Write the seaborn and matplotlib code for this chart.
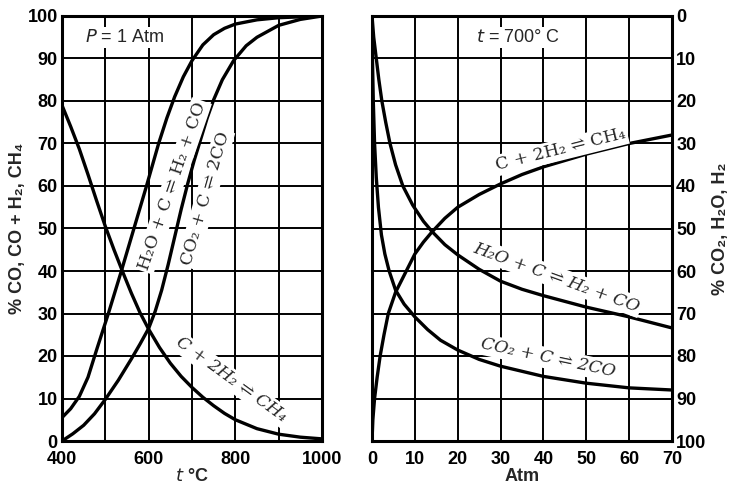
import matplotlib
matplotlib.use("Agg")
import matplotlib.pyplot as plt
import seaborn as sns

# ---- data: left panel (P = 1 Atm), x = t (°C), y = %
t_h2o = [400, 420, 440, 460, 480, 507, 537, 566, 595, 623, 642, 660, 680, 700, 725, 750, 775, 800, 850, 900, 1000]
v_h2o = [5.5, 7.6, 10.5, 15, 21.5, 30, 40, 50, 60, 70, 76, 81, 85.7, 89.5, 93.2, 95.6, 97.1, 98.1, 99.1, 99.6, 100]

t_co2 = [400, 425, 450, 475, 500, 530, 560, 580, 600, 615, 630, 645, 660, 675, 690, 705, 720, 735, 750, 770, 796, 825, 850, 900, 950, 1000]
v_co2 = [0, 1.7, 3.7, 6.4, 9.8, 14.3, 19.3, 22.8, 26.5, 30.5, 35.5, 41.5, 48, 54.5, 60.5, 66, 71, 76, 80.3, 85, 89.5, 93, 95, 97.8, 99.2, 100]

t_ch4 = [400, 420, 440, 460, 480, 500, 520, 540, 560, 580, 600, 625, 650, 675, 700, 725, 750, 775, 800, 850, 900, 950, 1000]
v_ch4 = [79, 74, 68.7, 62.7, 56.5, 50.5, 45, 39.8, 34.8, 30.2, 26.3, 22, 18.3, 15.2, 12.6, 10.3, 8.3, 6.5, 5, 2.9, 1.6, 0.9, 0.5]

# ---- data: right panel (t = 700 °C), x = Atm, y = % CO2, H2O, H2 (0 at top)
p_ch4 = [0, 0.2, 0.6, 1.2, 1.9, 2.8, 3.8, 5.5, 7.5, 10, 12, 14, 17, 20, 25, 30, 35, 40, 50, 60, 70]
r_ch4 = [100, 95, 90, 85, 80, 75, 70, 65, 61, 56, 53.2, 50.8, 47.6, 45, 42, 39.5, 37.3, 35.5, 32.5, 30, 28]

p_h2o = [0, 0.4, 1.0, 1.6, 2.3, 3.2, 4.2, 5.5, 7.2, 9.5, 12, 14, 17, 20, 25, 30, 35, 40, 50, 60, 70]
r_h2o = [0, 5, 10, 15, 20, 25, 30, 35, 40, 44.5, 48.3, 50.7, 53.8, 56.2, 59.6, 62.4, 64.3, 65.8, 68.5, 70.8, 73.4]

p_co2 = [0, 0.1, 0.3, 0.6, 1.0, 1.5, 2.2, 3.0, 4.0, 5.5, 7.5, 10, 13, 16, 20, 25, 30, 40, 50, 60, 70]
r_co2 = [0, 10, 20, 30, 38, 45, 51.5, 56, 60, 64.5, 67.8, 70.8, 73.8, 76.3, 78.6, 80.8, 82.4, 84.8, 86.4, 87.5, 88]

left_xticks = [400, 600, 800, 1000]
left_xgrid = [400, 500, 600, 700, 800, 900, 1000]
yticks = list(range(0, 101, 10))
right_xticks = list(range(0, 71, 10))

sns.set_theme(style="white")
plt.rcParams["font.family"] = ["Liberation Sans Narrow", "Liberation Sans", "DejaVu Sans"]

fig = plt.figure(figsize=(7.29, 4.88), dpi=100)
axL = fig.add_axes([62/729, 47/488, 260/729, 425/488])
axR = fig.add_axes([372/729, 47/488, 300/729, 425/488])

LW = 2.4
for x, y in [(t_h2o, v_h2o), (t_co2, v_co2), (t_ch4, v_ch4)]:
    sns.lineplot(x=x, y=y, ax=axL, color="black", lw=LW, zorder=3)
for x, y in [(p_ch4, r_ch4), (p_h2o, r_h2o), (p_co2, r_co2)]:
    sns.lineplot(x=x, y=y, ax=axR, color="black", lw=LW, zorder=3, sort=False)

tickfont = dict(fontsize=13, fontweight="bold")

# left axis
axL.set_xlim(400, 1000)
axL.set_ylim(0, 100)
axL.set_xticks(left_xgrid)
axL.set_xticklabels([str(v) if v in left_xticks else "" for v in left_xgrid], **tickfont)
axL.set_yticks(yticks)
axL.set_yticklabels([str(v) for v in yticks], **tickfont)
axL.set_xlabel("$t$ °C", fontsize=13, fontweight="bold", labelpad=0)
axL.set_ylabel("% CO, CO + H₂, CH₄", fontsize=13, fontweight="bold", labelpad=1)

# right axis
axR.set_xlim(0, 70)
axR.set_ylim(100, 0)
axR.set_xticks(right_xticks)
axR.set_xticklabels([str(v) for v in right_xticks], **tickfont)
axR.yaxis.tick_right()
axR.yaxis.set_label_position("right")
axR.set_yticks(yticks)
axR.set_yticklabels([str(v) for v in yticks], **tickfont)
axR.set_xlabel("Atm", fontsize=13, fontweight="bold", labelpad=0)
axR.set_ylabel("% CO₂, H₂O, H₂", fontsize=13, fontweight="bold", labelpad=4, rotation=90)

for ax in (axL, axR):
    ax.grid(True, color="black", lw=1.4, zorder=1)
    ax.set_axisbelow(True)
    ax.tick_params(axis="y", length=0, pad=3, colors="black")
    ax.tick_params(axis="x", length=0, pad=7, colors="black")
    for s in ax.spines.values():
        s.set_color("black")
        s.set_linewidth(2.2)
        s.set_visible(True)

box = dict(facecolor="white", edgecolor="none", pad=1.5)
serif = ["DejaVu Serif"]

axL.text(545, 95, "$P$ = 1 Atm", fontsize=13, ha="center", va="center", bbox=box, zorder=4)
axR.text(34, 5, "$t$ = 700° C", fontsize=13, ha="center", va="center", bbox=box, zorder=4)

axL.text(655, 60, "H₂O + C ⇌ H₂ + CO", family=serif, fontsize=12.5, rotation=71,
         ha="center", va="center", rotation_mode="anchor", bbox=box, zorder=4)
axL.text(731, 57, "CO₂ + C ⇌ 2CO", family=serif, fontsize=12.5, rotation=74,
         ha="center", va="center", rotation_mode="anchor", bbox=box, zorder=4)
axL.text(790, 14.5, "C + 2H₂ ⇌ CH₄", family=serif, style="italic", fontsize=12.5, rotation=-36,
         ha="center", va="center", rotation_mode="anchor", bbox=box, zorder=4)

axR.text(44, 31.5, "C + 2H₂ ⇌ CH₄", family=serif, fontsize=12.5, rotation=14,
         ha="center", va="center", rotation_mode="anchor", bbox=box, zorder=4)
axR.text(43, 61.5, "H₂O + C ⇌ H₂ + CO", family=serif, style="italic", fontsize=12.5, rotation=-20,
         ha="center", va="center", rotation_mode="anchor", bbox=box, zorder=4)
axR.text(41, 80.5, "CO₂ + C ⇌ 2CO", family=serif, style="italic", fontsize=12.5, rotation=-12,
         ha="center", va="center", rotation_mode="anchor", bbox=box, zorder=4)

fig.savefig("out.png", dpi=100)
